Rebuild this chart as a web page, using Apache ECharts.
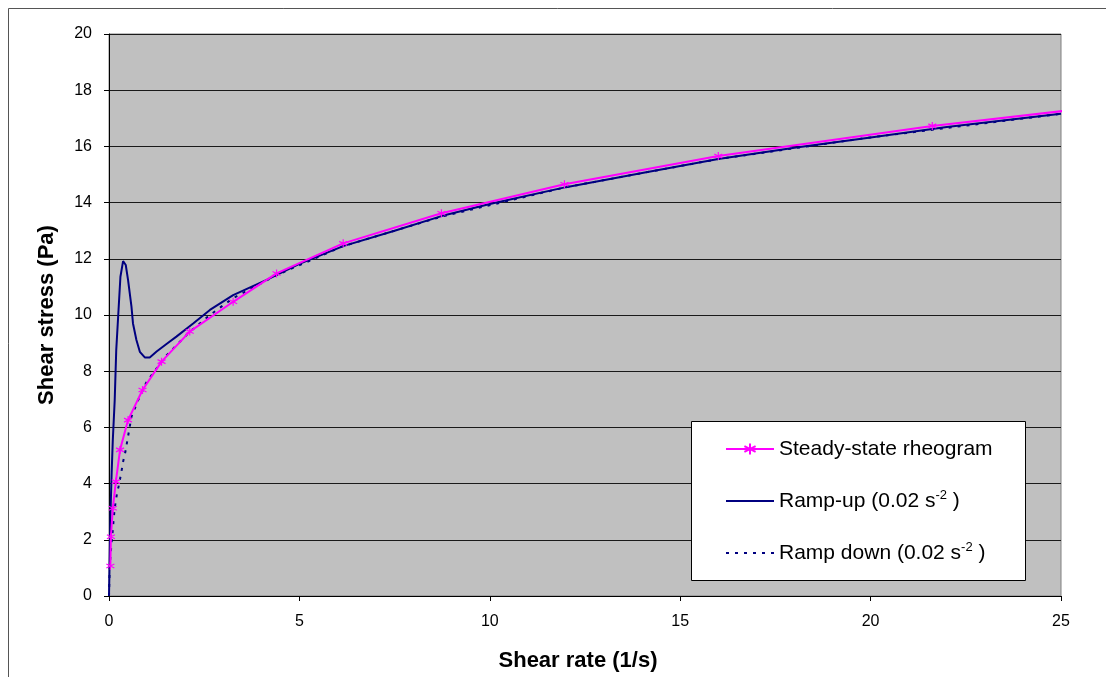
<!DOCTYPE html>
<html>
<head>
<meta charset="utf-8">
<title>Shear stress vs shear rate</title>
<script src="https://cdn.jsdelivr.net/npm/echarts@6/dist/echarts.min.js"></script>
<style>
  html, body { margin: 0; padding: 0; background: #ffffff; }
  #chart { width: 1106px; height: 677px; }
</style>
</head>
<body>
<div id="chart"></div>
<script>
// Steady-state rheogram (markers)
const steadyRate = [0.036, 0.05, 0.1, 0.18, 0.29, 0.5, 0.88, 1.38, 2.12, 3.26, 4.4, 6.15, 8.73, 11.96, 16.0, 21.62, 25.12];
const steadyStress = [1.07, 2.11, 3.12, 4.07, 5.2, 6.26, 7.33, 8.34, 9.41, 10.47, 11.48, 12.55, 13.62, 14.65, 15.66, 16.73, 17.27];

// Ramp-up (0.02 s^-2)
const rampUpRate = [0, 0.02, 0.04, 0.07, 0.1, 0.15, 0.19, 0.24, 0.3, 0.37, 0.44, 0.5, 0.59, 0.63, 0.72, 0.81, 0.94, 1.07, 1.25, 1.51, 1.77, 2.21, 2.65, 3.26, 4.14, 5.0, 6.15, 7.5, 8.73, 10.0, 12.0, 14.0, 16.0, 18.0, 20.0, 22.0, 25.0];
const rampUpStress = [0, 1.5, 3.0, 4.4, 5.55, 6.97, 8.75, 9.94, 11.36, 11.92, 11.78, 11.25, 10.3, 9.7, 9.11, 8.69, 8.49, 8.49, 8.7, 8.97, 9.23, 9.7, 10.18, 10.71, 11.25, 11.82, 12.45, 13.0, 13.52, 13.95, 14.55, 15.05, 15.55, 15.95, 16.32, 16.69, 17.16];

// Ramp down (0.02 s^-2)
const rampDownRate = [0, 0.02, 0.07, 0.1, 0.12, 0.15, 0.21, 0.25, 0.32, 0.37, 0.43, 0.59, 0.76, 0.98, 1.25, 1.5, 2.12, 2.65, 3.26, 4.4, 6.15, 8.73, 12.0, 16.0, 20.0, 25.0];
const rampDownStress = [0, 1.1, 1.93, 2.35, 2.7, 3.13, 3.65, 3.89, 4.37, 4.78, 5.13, 6.38, 6.95, 7.6, 8.1, 8.55, 9.4, 10.0, 10.6, 11.42, 12.45, 13.5, 14.55, 15.55, 16.32, 17.16];

const seriesNames = ['Steady-state rheogram', 'Ramp-up (0.02 s-2 )', 'Ramp down (0.02 s-2 )'];
const legendLabels = ['Steady-state rheogram', 'Ramp-up (0.02 s{sup|-2} )', 'Ramp down (0.02 s{sup|-2} )'];

const xTicks = { min: 0, max: 25, interval: 5 };
const yTicks = { min: 0, max: 20, interval: 2 };

const FONT = '"Liberation Sans", Arial, sans-serif';
const PINK = '#FF00FF';
const NAVY = '#000080';

function pairs(xs, ys) { return xs.map((x, i) => [x, ys[i]]); }

const steadyData = pairs(steadyRate, steadyStress).map((p, i, arr) =>
  i === arr.length - 1 ? { value: p, symbol: 'none' } : p);

const chart = echarts.init(document.getElementById('chart'), null, { renderer: 'canvas' });

// one legend block per row, so each row sits at its own height inside the box
function legendAt(idx, top, lineOnly) {
  const lg = {
    data: [seriesNames[idx]],
    left: 725,
    top: top,
    padding: 0,
    itemWidth: 48,
    itemHeight: 14,
    z: 10,
    selectedMode: false,
    formatter: () => legendLabels[idx],
    textStyle: {
      fontFamily: FONT, fontSize: 21, color: '#000', lineHeight: 24,
      rich: {
        sup: { fontFamily: FONT, fontSize: 13, color: '#000', verticalAlign: 'top', lineHeight: 15 }
      }
    }
  };
  if (lineOnly) {
    lg.itemStyle = { color: 'transparent', borderColor: 'transparent', borderWidth: 0, opacity: 0 };
  }
  return lg;
}

const option = {
  animation: false,
  backgroundColor: '#ffffff',
  grid: {
    left: 109, right: 45, top: 34, bottom: 81,
    show: true,
    backgroundColor: '#C0C0C0',
    borderColor: '#808080',
    borderWidth: 1
  },
  graphic: [
    {
      type: 'rect', z: -10, silent: true,
      shape: { x: 8.5, y: 8.5, width: 1200, height: 800 },
      style: { fill: 'none', stroke: '#555555', lineWidth: 1 }
    },
    {
      type: 'rect', z: 5, silent: true,
      shape: { x: 691.5, y: 421.5, width: 334, height: 159 },
      style: { fill: '#ffffff', stroke: '#000000', lineWidth: 1 }
    }
  ],
  legend: [legendAt(0, 437, false), legendAt(1, 489, true), legendAt(2, 541, true)],
  xAxis: {
    type: 'value',
    min: xTicks.min, max: xTicks.max, interval: xTicks.interval,
    name: 'Shear rate (1/s)',
    nameLocation: 'middle',
    nameGap: 54,
    nameTextStyle: { fontFamily: FONT, fontSize: 22, fontWeight: 'bold', color: '#000', padding: [0, 14, 0, 0] },
    axisLine: { show: true, onZero: false, lineStyle: { color: '#000', width: 1 } },
    axisTick: { show: true, inside: false, length: 5, lineStyle: { color: '#000' } },
    axisLabel: { fontFamily: FONT, fontSize: 16, color: '#000', margin: 18 },
    splitLine: { show: false }
  },
  yAxis: {
    type: 'value',
    min: yTicks.min, max: yTicks.max, interval: yTicks.interval,
    name: 'Shear stress (Pa)',
    nameLocation: 'middle',
    nameGap: 51,
    nameTextStyle: { fontFamily: FONT, fontSize: 22, fontWeight: 'bold', color: '#000' },
    axisLine: { show: true, onZero: false, lineStyle: { color: '#000', width: 1 } },
    axisTick: { show: true, inside: false, length: 5, lineStyle: { color: '#000' } },
    axisLabel: { fontFamily: FONT, fontSize: 16, color: '#000', margin: 17 },
    splitLine: { show: true, lineStyle: { color: '#1a1a1a', width: 1 } }
  },
  series: [
    {
      name: seriesNames[0],
      type: 'line',
      data: steadyData,
      clip: false,
      z: 4,
      symbol: 'path://M5,0L5,10M0.7,2.5L9.3,7.5M0.7,7.5L9.3,2.5',
      symbolSize: 8,
      showSymbol: true,
      lineStyle: { color: PINK, width: 2 },
      itemStyle: { color: PINK, borderColor: PINK, borderWidth: 1.2 }
    },
    {
      name: seriesNames[1],
      type: 'line',
      data: pairs(rampUpRate, rampUpStress),
      clip: false,
      z: 3,
      symbol: 'none',
      lineStyle: { color: NAVY, width: 2 },
      itemStyle: { color: NAVY }
    },
    {
      name: seriesNames[2],
      type: 'line',
      data: pairs(rampDownRate, rampDownStress),
      clip: false,
      z: 3,
      symbol: 'none',
      lineStyle: { color: NAVY, width: 2, type: [3, 6] },
      itemStyle: { color: NAVY }
    }
  ]
};

chart.setOption(option);
</script>
</body>
</html>
